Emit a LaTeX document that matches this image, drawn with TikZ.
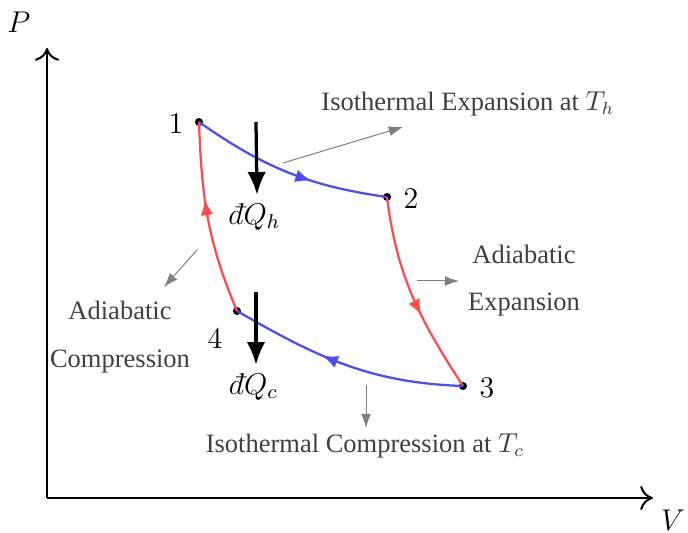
\documentclass[tikz,border=0pt]{standalone}
\usepackage{amsmath}
\usepackage[no-math]{fontspec}
\newfontfamily\labelfont{Liberation Serif}
\usepackage{tikz}
\usetikzlibrary{arrows.meta,decorations.markings}
\newcommand{\inexactd}{{\mathchar'26\mkern-12mu d}}
\tikzset{
  axis/.style={black, line width=0.8pt, -{To[length=1.8mm,width=3.4mm]}},
  isotherm/.style={blue!70, line width=0.9pt},
  adiabat/.style={red!70, line width=0.9pt},
  midarrow/.style={postaction={decorate, decoration={markings,
      mark=at position #1 with {\arrow{Latex[length=2.2mm,width=1.8mm]}}}}},
  state/.style={circle, fill=black, inner sep=0pt, minimum size=3.2pt},
  statelab/.style={font=\large},
  heat/.style={black, line width=1.3pt, -{Latex[length=3.2mm,width=2.6mm]}},
  pointer/.style={black!50, line width=0.4pt, -{Latex[length=2mm,width=1.4mm]}},
  proc/.style={font=\labelfont\fontsize{10.6}{12}\selectfont, text=black!75},
}

\begin{document}
\begin{tikzpicture}[x=0.4pt,y=0.4pt]
  \path[use as bounding box] (0,0) rectangle (688,533);

  % axes
  \coordinate (O) at (47,35);
  \coordinate (Ptop) at (47,485);
  \coordinate (Vend) at (653,35);
  \draw[axis] (O) -- (Ptop);
  \draw[axis] (O) -- (Vend);
  \node[font=\large, inner sep=0pt] (Plab) at (19,511) {$P$};
  \node[font=\large, inner sep=0pt] (Vlab) at (673,13) {$V$};

  % the four states
  \node[state] (p1) at (199,411) {};
  \node[state] (p2) at (387,336) {};
  \node[state] (p3) at (463,147) {};
  \node[state] (p4) at (237,222) {};
  \node[statelab] (l1) at (176,409) {1};
  \node[statelab] (l2) at (411,334) {2};
  \node[statelab] (l3) at (487,145) {3};
  \node[statelab] (l4) at (215,195) {4};

  % the cycle
  \draw[isotherm, midarrow=0.62] (p1.center) to[out=-35, in=172] (p2.center);
  \draw[adiabat, midarrow=0.6] (p2.center) to[out=-83, in=123] (p3.center);
  \draw[isotherm, midarrow=0.6] (p3.center) to[out=178, in=-30] (p4.center);
  \draw[adiabat, midarrow=0.6] (p4.center) to[out=113, in=-88] (p1.center);

  % heat flows
  \coordinate (Qhtop) at (256,411);
  \node[font=\large] (Qh) at (257,316) {$\inexactd Q_h$};
  \draw[heat] (Qhtop) -- (Qh.north);
  \coordinate (Qctop) at (256,241);
  \node[font=\large] (Qc) at (256,146) {$\inexactd Q_c$};
  \draw[heat] (Qctop) -- (Qc.north);

  % process labels
  \node[proc] (isoexp) at (468,429) {Isothermal Expansion at $T_h$};
  \coordinate (a1) at (283,370);
  \coordinate (a2) at (403,406);
  \draw[pointer] (a1) -- (a2);

  \node[proc] (adcomp1) at (120,223) {Adiabatic};
  \node[proc] (adcomp2) at (120,171) {Compression};
  \coordinate (b1) at (197,283);
  \coordinate (b2) at (164,246);
  \draw[pointer] (b1) -- (b2);

  \node[proc] (adexp1) at (524,279) {Adiabatic};
  \node[proc] (adexp2) at (524,228) {Expansion};
  \coordinate (c1) at (417,252);
  \coordinate (c2) at (459,252);
  \draw[pointer] (c1) -- (c2);

  \node[proc] (isocomp) at (365,87) {Isothermal Compression at $T_c$};
  \coordinate (d1) at (366,148);
  \coordinate (d2) at (366,105);
  \draw[pointer] (d1) -- (d2);
\end{tikzpicture}
\end{document}
